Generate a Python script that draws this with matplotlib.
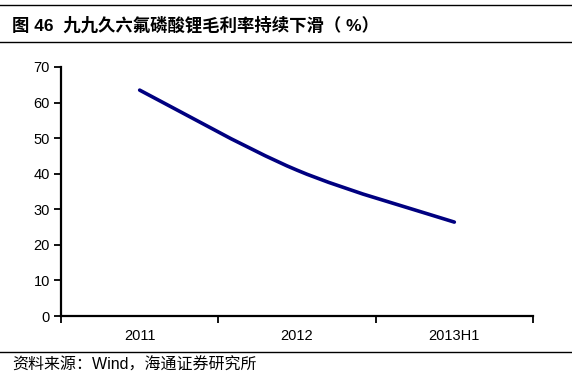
import matplotlib.pyplot as plt
from matplotlib.path import Path
from matplotlib.patches import PathPatch
from matplotlib.lines import Line2D

plt.rcParams['font.family'] = ['Liberation Sans', 'Noto Sans CJK SC', 'DejaVu Sans']

categories = ['2011', '2012', '2013H1']
gross_margin = [63.5, 41.0, 26.4]

fig = plt.figure(figsize=(5.72, 3.76), dpi=100)
ax = fig.add_axes([61 / 572, 1 - 316 / 376, (533 - 61) / 572, (316 - 67) / 376])

x = list(range(len(categories)))

# 平滑曲线 (Catmull-Rom -> Bezier), 由数据点计算控制点
verts = [(x[0], gross_margin[0])]
codes = [Path.MOVETO]
n = len(x)
for i in range(n - 1):
    p0 = (x[max(i - 1, 0)], gross_margin[max(i - 1, 0)])
    p1 = (x[i], gross_margin[i])
    p2 = (x[i + 1], gross_margin[i + 1])
    p3 = (x[min(i + 2, n - 1)], gross_margin[min(i + 2, n - 1)])
    c1 = (p1[0] + (p2[0] - p0[0]) / 6, p1[1] + (p2[1] - p0[1]) / 6)
    c2 = (p2[0] - (p3[0] - p1[0]) / 6, p2[1] - (p3[1] - p1[1]) / 6)
    verts += [c1, c2, p2]
    codes += [Path.CURVE4] * 3
ax.add_patch(PathPatch(Path(verts, codes), facecolor='none', edgecolor='#000080',
                       lw=2.6, capstyle='round'))

ax.set_xlim(-0.5, len(categories) - 0.5)
ax.set_ylim(0, 70)
ax.set_yticks(range(0, 71, 10))
ax.set_xticks([i - 0.5 for i in range(len(categories) + 1)], minor=False)
ax.set_xticklabels([])
ax.set_xticks(x, minor=True)
ax.set_xticklabels(categories, minor=True)
ax.tick_params(axis='x', which='minor', length=0, pad=9, labelsize=10.5)
ax.tick_params(axis='x', which='major', length=5, width=1.3, direction='out')
ax.tick_params(axis='y', length=5, width=1.3, direction='out', labelsize=10.5, pad=3)

for s in ['top', 'right']:
    ax.spines[s].set_visible(False)
for s in ['left', 'bottom']:
    ax.spines[s].set_linewidth(1.6)

# 标题与分隔线
fig.add_artist(Line2D([0, 1], [1 - 5 / 376] * 2, color='black', lw=1.0))
fig.add_artist(Line2D([0, 1], [1 - 42 / 376] * 2, color='black', lw=1.0))
fig.add_artist(Line2D([0, 1], [1 - 352 / 376] * 2, color='black', lw=1.0))
fig.text(12 / 572, 1 - 25 / 376, '图 46  九九久六氟磷酸锂毛利率持续下滑（ %）',
         fontsize=12.5, fontweight='bold', va='center', ha='left')
fig.text(12 / 572, 1 - 365 / 376, '资料来源：Wind，海通证券研究所',
         fontsize=11.5, va='center', ha='left')

fig.savefig('out.png', dpi=100)
